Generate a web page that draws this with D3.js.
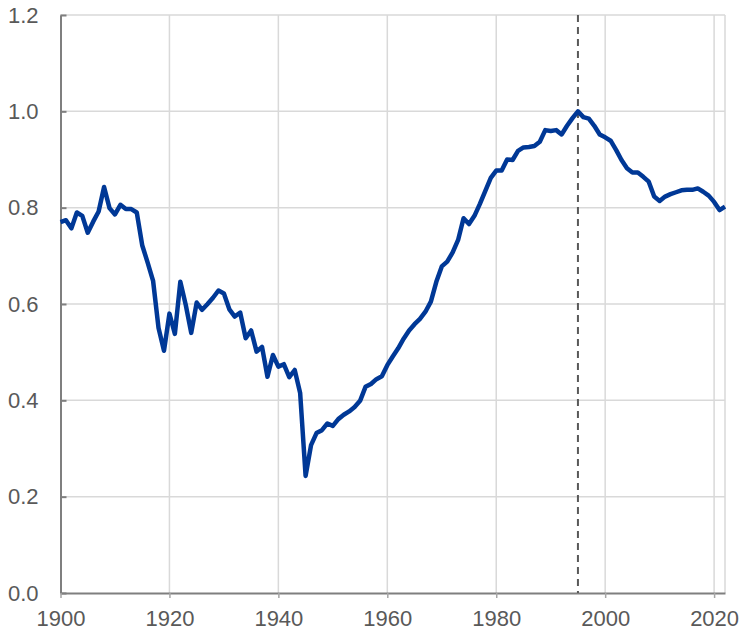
<!DOCTYPE html>
<html>
<head>
<meta charset="utf-8">
<script src="https://cdn.jsdelivr.net/npm/d3@7"></script>
<style>
  body { margin: 0; background: #fff; }
  text { font-family: "Liberation Sans", Arial, sans-serif; fill: #595959; }
</style>
</head>
<body>
<div id="chart"></div>
<script>
// yearly values, 1900-2022
const years = d3.range(1900, 2023);
const values = [
  0.770, 0.774, 0.757, 0.790, 0.783, 0.748, 0.771, 0.792, 0.843, 0.799,
  0.786, 0.806, 0.797, 0.797, 0.790, 0.722, 0.686, 0.648, 0.550, 0.503,
  0.580, 0.538, 0.646, 0.598, 0.540, 0.603, 0.588, 0.600, 0.613, 0.628,
  0.622, 0.589, 0.574, 0.582, 0.529, 0.545, 0.501, 0.511, 0.449, 0.494,
  0.470, 0.475, 0.448, 0.463, 0.415, 0.243, 0.307, 0.332, 0.338, 0.352,
  0.347, 0.361, 0.370, 0.377, 0.386, 0.399, 0.428, 0.434, 0.444, 0.450,
  0.473, 0.491, 0.508, 0.528, 0.545, 0.558, 0.569, 0.584, 0.605, 0.646,
  0.678, 0.688, 0.707, 0.733, 0.778, 0.766, 0.783, 0.808, 0.835, 0.862,
  0.877, 0.877, 0.900, 0.899, 0.918, 0.925, 0.926, 0.928, 0.937, 0.961,
  0.959, 0.961, 0.952, 0.970, 0.986, 1.000, 0.988, 0.985, 0.970, 0.952,
  0.946, 0.939, 0.920, 0.899, 0.882, 0.873, 0.873, 0.864, 0.854, 0.823,
  0.814, 0.823, 0.828, 0.832, 0.836, 0.837, 0.837, 0.840, 0.833, 0.825,
  0.812, 0.795, 0.802
];
const xTicks = [1900, 1920, 1940, 1960, 1980, 2000, 2020];
const yTicks = [0, 0.2, 0.4, 0.6, 0.8, 1.0, 1.2];
const markerYear = 1995;

const data = years.map((y, i) => ({year: y, value: values[i]}));

const width = 740, height = 631;
const margin = {top: 15, right: 15, bottom: 38, left: 60.5};

const svg = d3.select("#chart")
  .append("svg")
  .attr("width", width)
  .attr("height", height);

const x = d3.scaleLinear()
  .domain([1900, 2022])
  .range([margin.left, width - margin.right]);

const y = d3.scaleLinear()
  .domain([0, 1.2])
  .range([height - margin.bottom, margin.top]);

// gridlines
svg.append("g")
  .selectAll("line")
  .data(yTicks.slice(1))
  .join("line")
  .attr("x1", x(1900)).attr("x2", x(2022))
  .attr("y1", d => y(d)).attr("y2", d => y(d))
  .attr("stroke", "#d9d9d9")
  .attr("stroke-width", 1.5);

svg.append("g")
  .selectAll("line")
  .data(xTicks.slice(1).concat([2022]))
  .join("line")
  .attr("x1", d => x(d)).attr("x2", d => x(d))
  .attr("y1", y(0)).attr("y2", y(1.2))
  .attr("stroke", "#d9d9d9")
  .attr("stroke-width", 1.5);

// axes
const yAxis = svg.append("g")
  .attr("transform", `translate(${x(1900)},0)`)
  .call(d3.axisLeft(y).tickValues(yTicks).tickFormat(d3.format(".1f"))
    .tickSizeInner(-6).tickSizeOuter(0).tickPadding(22));

const xAxis = svg.append("g")
  .attr("transform", `translate(0,${y(0)})`)
  .call(d3.axisBottom(x).tickValues(xTicks).tickFormat(d3.format("d"))
    .tickSizeInner(5).tickSizeOuter(0).tickPadding(12));

[yAxis, xAxis].forEach(g => {
  g.select(".domain").attr("stroke", "#7f7f7f").attr("stroke-width", 2);
  g.selectAll(".tick text")
    .attr("font-size", 22)
    .attr("fill", "#595959")
    .style("font-family", '"Liberation Sans", Arial, sans-serif');
});
yAxis.selectAll(".tick line").attr("stroke", "#7f7f7f").attr("stroke-width", 2);
xAxis.selectAll(".tick line").attr("stroke", "#a6a6a6").attr("stroke-width", 1.5);

// dashed marker
svg.append("line")
  .attr("x1", x(markerYear)).attr("x2", x(markerYear))
  .attr("y1", y(1.2)).attr("y2", y(0))
  .attr("stroke", "#595959")
  .attr("stroke-width", 2)
  .attr("stroke-dasharray", "7,5");

// series line
const line = d3.line()
  .x(d => x(d.year))
  .y(d => y(d.value));

svg.append("path")
  .datum(data)
  .attr("fill", "none")
  .attr("stroke", "#003896")
  .attr("stroke-width", 4.5)
  .attr("stroke-linejoin", "round")
  .attr("d", line);
</script>
</body>
</html>
